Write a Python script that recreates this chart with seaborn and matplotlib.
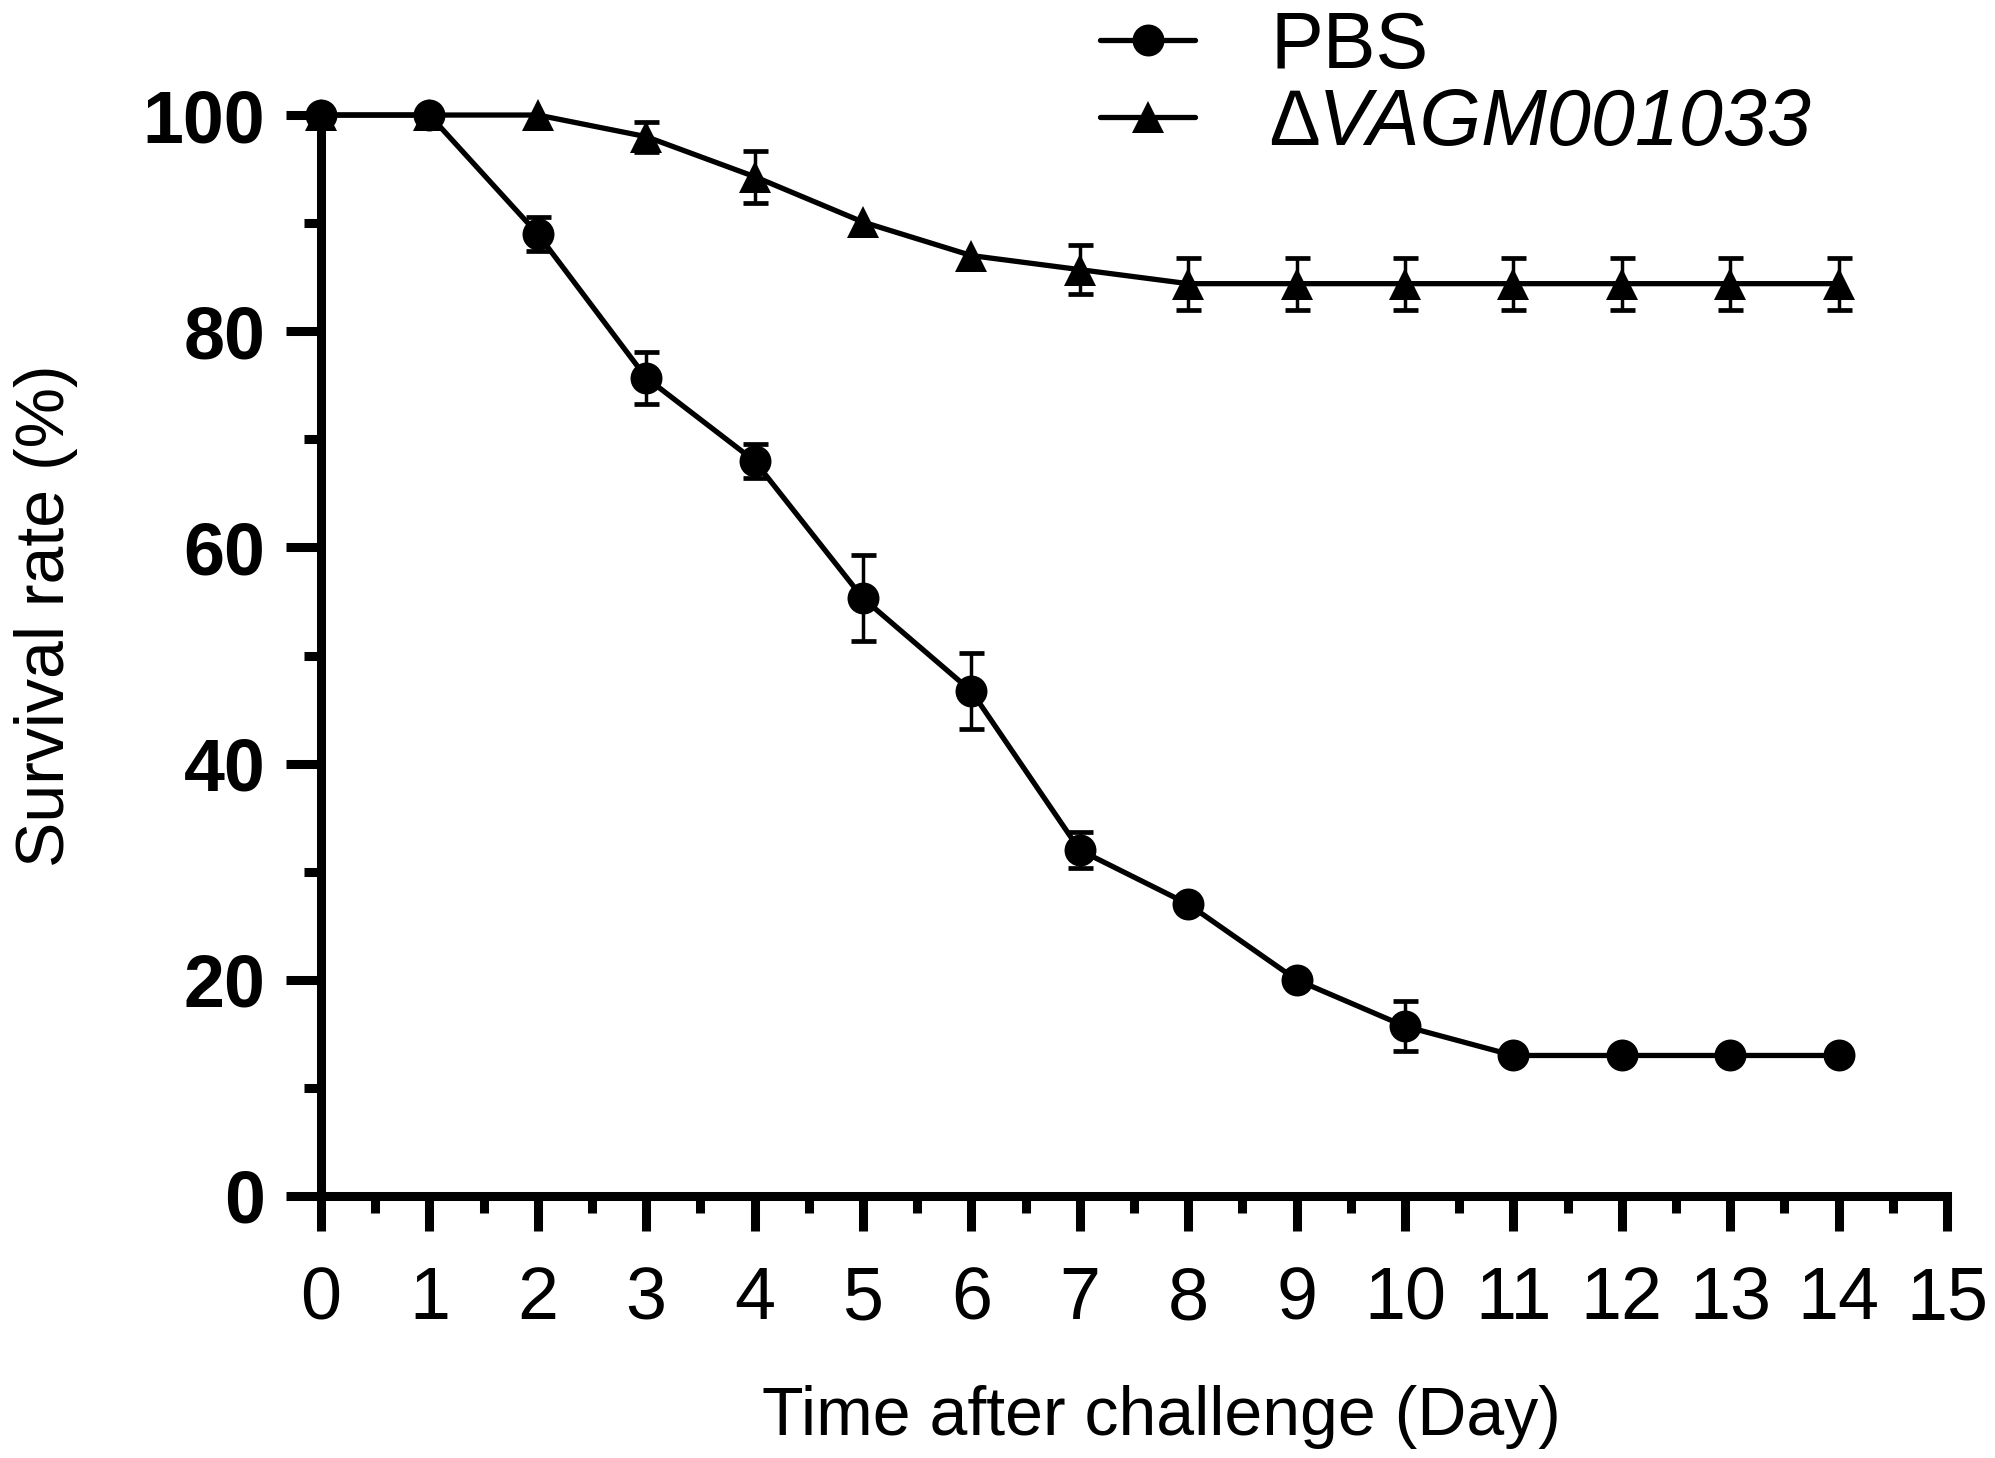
import numpy as np
import pandas as pd
import matplotlib.pyplot as plt
from matplotlib.lines import Line2D
from matplotlib.ticker import MultipleLocator
import seaborn as sns

days = list(range(15))
pbs_mean = [100, 100, 89, 75.7, 68, 55.3, 46.7, 32, 27, 20, 15.7, 13, 13, 13, 13]
pbs_err = [0, 0, 1.6, 2.4, 1.6, 4.0, 3.5, 1.7, 0, 0, 2.3, 0, 0, 0, 0]
mut_mean = [100, 100, 100, 98, 94.3, 90.1, 87, 85.7, 84.4, 84.4, 84.4, 84.4, 84.4, 84.4, 84.4]
mut_err = [0, 0, 0, 1.4, 2.4, 0, 0, 2.3, 2.4, 2.4, 2.4, 2.4, 2.4, 2.4, 2.4]
groups = ['PBS', '\u2206VAGM001033']

df = pd.DataFrame({
    'day': days * 2,
    'survival': pbs_mean + mut_mean,
    'group': [groups[0]] * len(days) + [groups[1]] * len(days),
})

sns.set_style('ticks', {'axes.edgecolor': 'black', 'text.color': 'black',
                        'axes.labelcolor': 'black', 'xtick.color': 'black',
                        'ytick.color': 'black'})
plt.rcParams['font.family'] = ['Liberation Sans', 'DejaVu Sans']

fig = plt.figure(figsize=(19.95, 14.58), dpi=100)
ax = fig.add_axes([0.1609, 0.1797, 0.815, 0.7414])

lw = 3.8
ms = 23
# triangles first so the circles sit on top where they overlap
sns.lineplot(data=df, x='day', y='survival', hue='group', style='group',
             hue_order=[groups[1], groups[0]], style_order=[groups[1], groups[0]],
             palette={groups[0]: 'black', groups[1]: 'black'},
             markers={groups[0]: 'o', groups[1]: '^'}, dashes=False,
             markersize=ms, markeredgewidth=0, linewidth=lw,
             legend=False, clip_on=False, ax=ax)

for mean, err in [(mut_mean, mut_err), (pbs_mean, pbs_err)]:
    d = np.array(days)
    m = np.array(mean)
    e = np.array(err)
    keep = e > 0
    ax.errorbar(d[keep], m[keep], yerr=e[keep], fmt='none', ecolor='black',
                elinewidth=2.5, capsize=9, capthick=3.4, clip_on=False, zorder=3)

ax.set_xlim(0, 15)
ax.set_ylim(0, 100)
ax.xaxis.set_major_locator(MultipleLocator(1))
ax.xaxis.set_minor_locator(MultipleLocator(0.5))
ax.yaxis.set_major_locator(MultipleLocator(20))
ax.yaxis.set_minor_locator(MultipleLocator(10))
sns.despine(ax=ax)
for s in ['left', 'bottom']:
    ax.spines[s].set_linewidth(6.5)
ax.tick_params(which='major', length=25, width=6.5, color='black')
ax.tick_params(which='minor', length=12, width=6.5, color='black')
ax.tick_params(axis='x', which='major', labelsize=53, pad=25)
ax.tick_params(axis='y', which='major', labelsize=53, pad=15)
for t in ax.get_yticklabels():
    t.set_fontweight('bold')

ax.set_xlabel('Time after challenge (Day)', fontsize=49, va='baseline')
ax.xaxis.set_label_coords(0.517, -0.221)
ax.set_ylabel('Survival rate (%)', fontsize=49, va='baseline')
ax.yaxis.set_label_coords(-0.158, 0.537)

handles = [Line2D([], [], color='black', marker='o', markersize=ms, markeredgewidth=0, linewidth=lw),
           Line2D([], [], color='black', marker='^', markersize=ms, markeredgewidth=0, linewidth=lw)]
leg = ax.legend(handles, groups, loc='upper left', bbox_to_anchor=(0.5514, 0.993),
                bbox_transform=fig.transFigure, frameon=False, fontsize=57,
                borderpad=0, borderaxespad=0, handlelength=1.2, handletextpad=0.95,
                labelspacing=0.02)
leg.get_texts()[1].set_fontstyle('italic')

fig.savefig('out.png', dpi=100)
